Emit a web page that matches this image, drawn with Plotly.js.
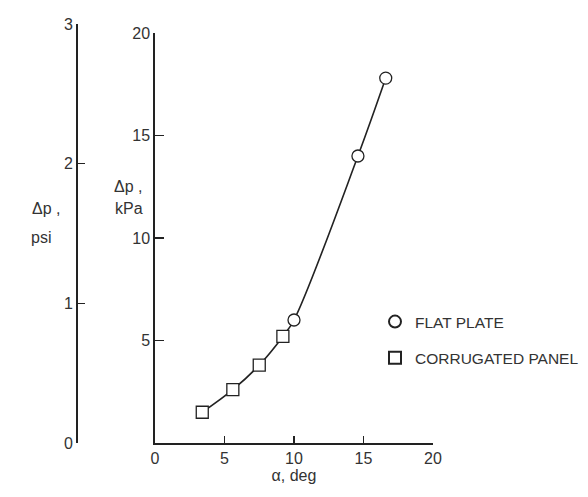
<!DOCTYPE html>
<html>
<head>
<meta charset="utf-8">
<script src="https://cdn.plot.ly/plotly-3.0.1.min.js"></script>
<style>html,body{margin:0;padding:0;background:#fff;}#chart{width:588px;height:497px;}</style>
</head>
<body>
<div id="chart"></div>
<script>
// Data
const flatAlpha = [10.0, 14.6, 16.6];
const flatDp = [6.0, 14.0, 17.8];
const corrAlpha = [3.4, 5.6, 7.5, 9.2];
const corrDp = [1.5, 2.6, 3.8, 5.2];
const flatName = 'FLAT PLATE';
const corrName = 'CORRUGATED PANEL';
const xTicks = [0, 5, 10, 15, 20];
const kpaTicks = [5, 10, 15, 20];
const psiTicks = [0, 1, 2, 3];

// fairing curve through all points, sorted by alpha
const pts = corrAlpha.map((a, i) => [a, corrDp[i]]).concat(flatAlpha.map((a, i) => [a, flatDp[i]])).sort((p, q) => p[0] - q[0]);
const curveX = pts.map(p => p[0]);
const curveY = pts.map(p => p[1]);

const ink = '#222222';
const txt = '#333333';
const fontFam = 'Liberation Sans, Arial, sans-serif';

const W = 588, H = 497;
const L = 76, R = 155, T = 24, B = 54;
const pw = W - L - R, ph = H - T - B;
const fx = px => (px - L) / pw;
const fy = py => (H - B - py) / ph;

const traces = [
  {x: curveX, y: curveY, type: 'scatter', mode: 'lines', line: {color: ink, width: 1.6, shape: 'spline', smoothing: 1}, showlegend: false, hoverinfo: 'skip'},
  {x: flatAlpha, y: flatDp, type: 'scatter', mode: 'markers', name: flatName, legendgroup: 'a',
   marker: {symbol: 'circle', size: 12, color: '#ffffff', line: {color: ink, width: 1.3}}},
  {x: corrAlpha, y: corrDp, type: 'scatter', mode: 'markers', name: corrName, legendgroup: 'b',
   marker: {symbol: 'square', size: 12, color: '#ffffff', line: {color: ink, width: 1.3}}},
  {x: [], y: [], yaxis: 'y2', type: 'scatter', mode: 'markers', showlegend: false, hoverinfo: 'skip'}
];

const axBase = {showgrid: false, zeroline: false, showline: true, linecolor: ink, linewidth: 1.7,
  ticks: 'inside', tickcolor: ink, tickwidth: 1.3, automargin: false, tickfont: {family: fontFam, size: 16, color: txt}};

const layout = {
  width: W, height: H,
  margin: {l: L, r: R, t: T, b: B, pad: 0, autoexpand: false},
  paper_bgcolor: '#ffffff', plot_bgcolor: 'rgba(0,0,0,0)',
  font: {family: fontFam, size: 16, color: txt},
  xaxis: Object.assign({}, axBase, {domain: [fx(155), 1], range: [0, 20], tickmode: 'array', tickvals: xTicks,
    ticklen: 7, anchor: 'y',
    title: {text: 'α, deg', font: {family: fontFam, size: 16, color: txt}, standoff: 2}}),
  yaxis: Object.assign({}, axBase, {domain: [0, fy(33)], range: [0, 20], tickmode: 'array', tickvals: kpaTicks,
    ticklen: 9, anchor: 'x'}),
  yaxis2: Object.assign({}, axBase, {domain: [0, 1], range: [0, 3], tickmode: 'array', tickvals: psiTicks,
    ticklen: 7, anchor: 'free', position: 0, side: 'left'}),
  legend: {x: fx(375), y: fy(305), xanchor: 'left', yanchor: 'top', bgcolor: 'rgba(0,0,0,0)',
    font: {family: fontFam, size: 15.5, color: txt}, tracegroupgap: 13, itemsizing: 'constant'},
  annotations: [
    {text: 'Δp ,', xref: 'paper', yref: 'paper', x: fx(112), y: fy(186), showarrow: false, font: {family: fontFam, size: 16, color: txt}},
    {text: 'kPa', xref: 'paper', yref: 'paper', x: fx(113), y: fy(209), showarrow: false, font: {family: fontFam, size: 16, color: txt}},
    {text: 'Δp ,', xref: 'paper', yref: 'paper', x: fx(30), y: fy(209), showarrow: false, font: {family: fontFam, size: 16, color: txt}},
    {text: 'psi', xref: 'paper', yref: 'paper', x: fx(29), y: fy(237), showarrow: false, font: {family: fontFam, size: 16, color: txt}}
  ]
};

Plotly.newPlot('chart', traces, layout, {displayModeBar: false, staticPlot: true});
</script>
</body>
</html>
